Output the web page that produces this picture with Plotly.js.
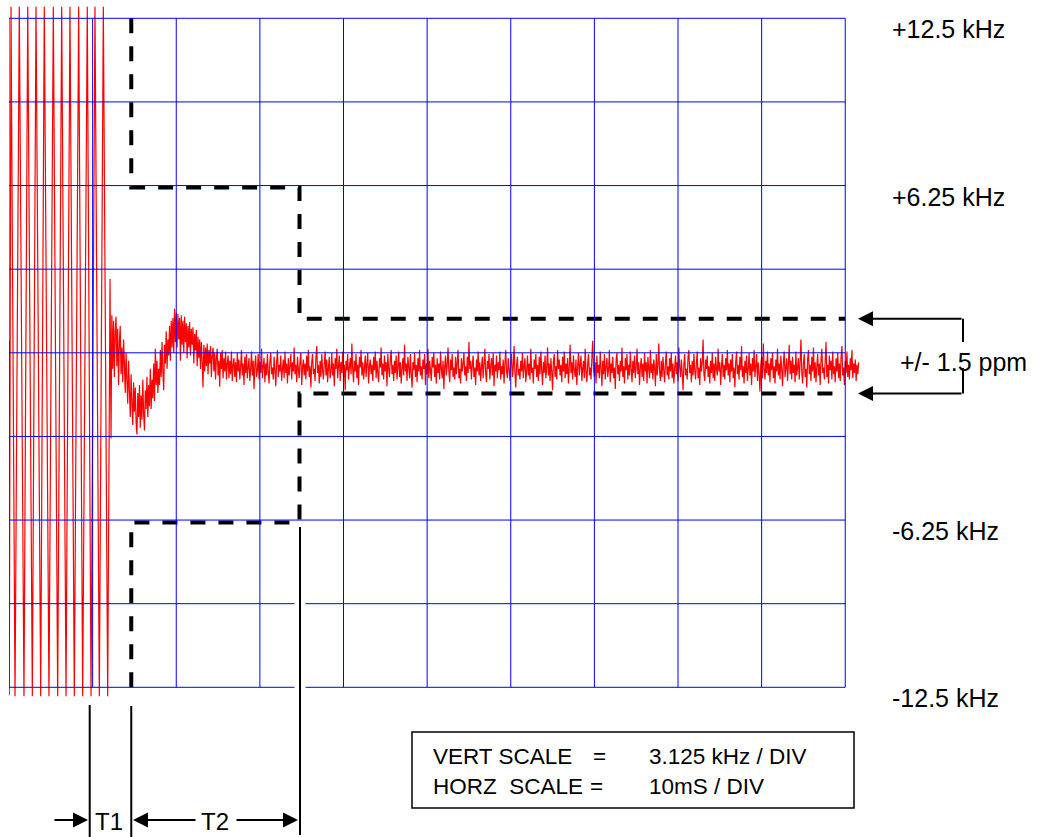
<!DOCTYPE html>
<html>
<head>
<meta charset="utf-8">
<script src="https://cdn.plot.ly/plotly-3.0.1.min.js"></script>
<style>
  html, body { margin: 0; padding: 0; background: #ffffff; }
  #chart { width: 1038px; height: 837px; }
</style>
</head>
<body>
<div id="chart"></div>
<script>
// ---------------- DATA ----------------
// Grid: 10 ms / div horizontally, 3.125 kHz / div vertically
const gridTimesMs = [0, 10, 20, 30, 40, 50, 60, 70, 80, 90, 100];
const gridLevelsKHz = [-12.5, -9.375, -6.25, -3.125, 0, 3.125, 6.25, 9.375, 12.5];

// Right-hand scale labels
const scaleLabels = ['+12.5 kHz', '+6.25 kHz', '-6.25 kHz', '-12.5 kHz'];
const scaleLabelLevelsKHz = [12.5, 6.25, -6.25, -12.5];

// Frequency sweep while unlocked (zigzag vertices)
const sweepTimeMs = [0.00, 0.03, 0.24, 0.72, 1.23, 1.79, 2.24, 2.79, 3.23, 3.79, 4.22, 4.78,
                     5.30, 5.82, 6.30, 6.82, 7.29, 7.81, 8.33, 8.81, 9.36, 9.81, 10.28, 10.80,
                     11.28, 11.80, 12.08];
const sweepKHz = [0.45, -12.80, 12.93, -12.83, 12.93, -12.83, 12.93, -12.83, 12.93, -12.83, 12.93, -12.83,
                  12.93, -12.83, 12.93, -12.83, 12.93, -12.83, 12.93, -12.83, 12.93, -12.83, 12.93, -12.83,
                  12.93, -12.83, 2.76];

// Settling transient, sampled every 0.1 ms from 12.2 ms
const SAMPLE_MS = 0.1;
const TRANSIENT_START_MS = 12.2;
const transientKHz = [
  -3.20, 1.40, -0.60, 1.20, -0.90, 0.80, 1.35, -0.50, 0.90, -1.20,
  0.40, 1.00, -0.80, 0.20, -1.10, 0.50, -0.40, -1.50, 0.00, -1.00,
  -1.90, -0.30, -1.40, -2.40, -0.80, -1.90, -2.70, -1.10, -2.20, -1.30,
  -2.60, -3.05, -1.50, -2.40, -1.20, -2.80, -1.60, -2.50, -1.00, -2.30,
  -2.90, -1.40, -2.10, -0.90, -2.40, -1.20, -2.00, -0.60, -2.10, -1.00,
  -1.70, -0.40, -1.80, 0.15, -1.20, -0.30, -1.50, -0.60, -1.20, 0.10,
  -0.90, 0.40, -0.70, -1.40, 0.30, -0.40, 0.80, -0.60, 0.50, -0.10,
  1.00, -0.30, 1.20, 0.20, 1.30, 0.00, 1.65, 0.40, 1.50, 0.20,
  1.45, 0.50, 1.30, -0.30, 1.40, 0.30, 1.20, 0.00, 1.35, 0.40,
  1.10, -0.20, 1.00, 0.20, 1.15, -0.10, 0.90, 0.30, 0.95, -0.40,
  0.70, 0.10, 0.85, -0.50, 0.60, -0.20, 0.50, -0.60, 0.40, -0.30,
  -1.30, 0.30, -0.70, 0.20, -0.50, 0.35, -0.80, 0.10, -0.40, 0.25,
  -0.90, -0.10, 0.20, -0.70, 0.00, -1.00, -0.20, 0.15, -0.85, -0.30,
  -1.27, 0.00, -0.60, 0.10, -0.95, -0.20, -0.70, 0.05, -1.00, -0.40
];

// Locked steady state (noise), sampled every 0.1 ms from 26.2 ms
const STEADY_START_MS = 26.2;
const steadyKHz = [
  -0.10,-0.95,-0.30,-0.80,0.05,-1.05,-0.45,-0.20,-0.90,-0.35,-1.10,0.00,-0.70,-0.25,-1.00,-0.50,0.10,-0.85,-0.40,-1.20,-0.15,-0.75,-0.05,-0.95,-0.55,
  -0.20,-1.05,-0.60,0.05,-0.85,-0.30,-1.35,-0.45,-0.10,-0.90,-0.65,-0.05,-1.00,-0.35,-0.75,0.15,-0.95,-0.50,-0.20,-1.10,-0.40,-0.85,-0.05,-0.70,-1.15,
  -0.30,0.00,-0.80,-0.55,-1.00,-0.15,-0.65,-1.25,-0.35,0.10,-0.90,-0.45,-0.70,-0.10,-1.05,-0.60,-0.25,-0.95,0.05,-0.75,-0.40,-1.15,-0.20,-0.85,-0.50,
  -0.05,-1.00,-0.35,-0.70,0.20,-0.80,-0.45,-1.10,-0.15,-0.60,-0.95,-0.30,0.00,-1.20,-0.55,-0.25,-0.85,-0.40,-1.00,-0.10,-0.70,0.10,-0.90,-0.50,-1.30,
  -0.35,-0.05,-0.80,-0.60,-1.05,-0.20,0.25,-0.75,-0.45,-1.15,-0.30,-0.90,-0.05,-0.65,-1.00,-0.40,0.05,-0.85,-0.25,-1.10,-0.55,-0.15,-0.95,-0.70,0.00,
  -0.85,-0.40,-1.25,-0.20,-0.60,0.15,-0.95,-0.50,-0.10,-1.05,-0.35,-0.75,0.05,-0.90,-0.45,-1.40,-0.30,-0.65,-0.05,-1.00,-0.55,-0.20,-0.80,0.35,-0.60,
  -1.10,-0.30,-0.70,-0.05,-0.95,-0.45,-1.20,-0.15,-0.55,0.10,-0.85,-0.35,-1.00,-0.60,-0.10,-0.90,-0.40,0.00,-1.15,-0.50,-0.25,-0.80,-0.45,-1.05,-0.15,
  -0.65,0.05,-0.95,-0.30,-0.75,-1.10,-0.20,-0.55,0.20,-0.85,-0.40,-1.00,-0.10,-0.70,-0.35,-1.25,-0.05,-0.60,-0.90,-0.25,0.10,-0.80,-0.45,-1.05,-0.30,
  -0.75,-0.10,-1.00,-0.50,0.05,-0.90,-0.35,-1.15,-0.60,-0.20,-0.85,0.30,-0.70,-0.40,-1.05,-0.15,-0.55,-0.95,-0.05,-0.80,-1.30,-0.35,-0.65,0.00,-0.90,
  -0.45,-1.10,-0.20,-0.70,0.10,-0.85,-0.50,-1.00,-0.25,-0.60,-0.05,-1.20,-0.40,-0.80,0.15,-0.95,-0.30,-0.65,-1.05,-0.15,-0.55,0.00,-0.90,-0.45,-1.15,
  -0.20,-0.75,-0.40,-1.00,0.05,-0.60,-0.95,-0.30,-1.35,-0.50,-0.10,-0.85,-0.45,0.20,-0.70,-1.10,-0.25,-0.65,-0.05,-0.90,-0.55,-1.00,-0.15,-0.80,-0.35,
  0.10,-0.95,-0.60,-1.15,-0.20,-0.70,-0.40,0.00,-0.85,-0.50,-1.05,-0.15,-0.75,0.40,-0.60,-0.30,-1.00,-0.45,-0.10,-0.90,-0.55,-1.20,-0.25,-0.70,0.05,
  -0.85,-0.35,-1.05,-0.55,-0.15,-0.95,-0.40,0.15,-0.75,-1.10,-0.30,-0.60,-0.05,-1.00,-0.50,-0.20,-0.85,0.00,-1.25,-0.45,-0.70,-0.10,-0.95,-0.35,-0.65,
  0.05,-1.00,-0.50,-0.80,-0.25,-1.15,-0.40,0.10,-0.70,-0.95,-0.20,-0.60,-1.05,-0.35,-0.05,-0.90,-0.55,0.25,-0.75,-1.30,-0.45,-0.15,-0.85,-0.60,-1.00,
  -0.30,-0.70,0.00,-0.95,-0.50,-0.20,-1.10,-0.65,-0.10,-0.85,-0.40,-1.00,0.15,-0.75,-0.55,-1.15,-0.25,-0.60,-0.05,-0.90,-0.45,-1.05,-0.15,-0.80,0.05,
  -0.65,-1.20,-0.35,-0.75,-0.10,-0.95,-0.55,0.20,-0.85,-0.40,-1.05,-0.20,-0.70,-1.40,-0.30,-0.05,-0.90,-0.50,-1.00,0.10,-0.60,-0.25,-0.85,-0.45,-1.10,
  -0.15,-0.70,0.05,-0.95,-0.40,-0.80,-0.20,-1.15,-0.55,0.30,-0.75,-0.35,-1.00,-0.10,-0.65,-0.90,-0.25,-1.20,-0.50,0.00,-0.85,-0.45,-0.10,-1.05,-0.60,
  -0.30,-0.95,0.15,-0.70,-1.10,-0.40,-0.05,-0.85,-0.55,-1.00,-0.20,0.45,-0.65,-0.90,-0.35,-1.15,-0.10,-0.75,-0.45,-0.95,0.05,-0.60,-1.25,-0.30,-0.80,
  -0.05,-1.00,-0.50,-0.20,-0.90,-0.60,0.10,-1.10,-0.40,-0.75,-0.15,-0.95,-0.55,-1.35,-0.25,0.00,-0.80,-0.45,-1.05,-0.30,-0.70,0.20,-0.90,-0.50,-1.15,
  -0.20,-0.65,-0.05,-1.00,-0.45,-0.85,0.05,-0.60,-1.10,-0.30,-0.75,-0.10,-0.95,-0.50,0.15,-0.80,-0.35,-1.20,-0.55,-0.20,-0.90,-0.40,-1.05,0.00,-0.70,
  -0.35,-1.15,-0.15,-0.60,-0.95,0.10,-0.75,-0.40,-1.00,-0.25,-0.55,-1.25,-0.05,-0.85,-0.45,0.35,-0.70,-1.05,-0.30,-0.90,-0.15,-0.65,-1.10,-0.35,0.05,
  -0.85,-0.50,-1.00,-0.20,-0.70,0.00,-0.95,-0.40,-1.15,-0.60,-0.10,-0.80,-0.35,-1.05,0.20,-0.55,-0.90,-0.25,-0.75,-1.40,-0.45,-0.05,-0.85,-0.60,-1.00,
  -0.15,0.10,-0.75,-0.45,-1.10,-0.30,-0.85,-0.05,-0.65,-1.00,-0.40,0.05,-0.95,-0.55,-1.20,-0.20,-0.70,-0.35,0.50,-0.80,-1.05,-0.25,-0.60,-0.10,-0.90,
  -0.50,-1.15,-0.30,-0.75,0.00,-0.95,-0.40,-1.05,-0.15,-0.60,-0.85,0.15,-0.70,-0.35,-1.20,-0.50,-0.05,-0.90,-0.45,-1.00,-0.20,-0.65,0.10,-0.85,-0.40,
  -1.10,-0.25,-0.70,-0.05,-0.95,-0.55,-1.30,-0.35,0.05,-0.80,-0.45,-1.00,-0.15,-0.65,0.25,-0.90,-0.50,-1.15,-0.30,-0.75,-0.10,-1.05,-0.60,0.00,-0.85,
  -0.40,-1.20,-0.20,-0.70,0.10,-0.90,-0.50,-0.05,-1.05,-0.35,-0.80,-1.45,-0.45,-0.15,-0.95,0.35,-0.60,-1.00,-0.30,-0.75,0.05,-0.85,-0.40,-1.10,-0.20,
  -0.65,0.00,-0.95,-0.50,-1.15,-0.25,-0.70,0.15,-0.85,-0.40,-1.00,-0.10,-0.60,-1.25,-0.35,0.05,-0.90,-0.55,-0.20,-1.05,-0.45,0.30,-0.80,-0.30,-1.00,
  -0.15,-0.75,-0.45,-1.10,0.05,-0.85,-0.55,-0.20,-1.00,-0.35,0.50,-0.70,-1.15,-0.40,-0.05,-0.90,-0.60,-1.30,-0.25,0.10,-0.80,-0.45,-1.05,-0.15,-0.70,
  0.20,-0.95,-0.35,-1.10,-0.50,-0.05,-0.85,-0.40,-1.20,-0.25,0.15,-0.75,-0.55,-1.00,-0.30,0.40,-0.90,-0.45,-1.15,-0.10,-0.65,-0.30,-1.00,0.05,-0.80,
  -0.50,-1.10,-0.20,-0.70,0.00,-0.95,-0.40,-1.05,-0.15,0.25,-0.85,-0.55,-1.20,-0.30,-0.75,0.05,-0.90,-0.45,-1.00,-0.20,-0.65,0.10,-0.95,-0.40,-0.75,
  -0.25,-1.05,-0.45,-0.80,-0.35
];

// Lock mask (dashed limits)
const maskTimeMs = [14.62, 14.62, 34.74, 34.74, 100];
const maskUpperKHz = [12.5, 6.18, 6.18, 1.27, 1.27];
const maskLowerKHz = [-12.5, -6.34, -6.34, -1.52, -1.52];

// Texts
const toleranceLabel = '+/- 1.5 ppm';
const intervalLabels = ['T1', 'T2'];
const scaleBoxRows = [
  ['VERT SCALE', '=', '3.125 kHz / DIV'],
  ['HORZ\u00a0\u00a0SCALE', '=', '10mS / DIV']
];

// ---------------- GEOMETRY ----------------
const PLOT_L = 9, PLOT_R = 860, PLOT_T = 0, PLOT_B = 700;
const W = 1038, H = 837;
const PX_PER_MS = 8.3625;
const PX_PER_KHZ = 26.76;
const CENTER_PY = 352.8;
const xRange = [0, (PLOT_R - PLOT_L) / PX_PER_MS];
const yRange = [-(PLOT_B - CENTER_PY) / PX_PER_KHZ, (CENTER_PY - PLOT_T) / PX_PER_KHZ];

const px2paperX = px => (px - PLOT_L) / (PLOT_R - PLOT_L);
const py2paperY = py => (PLOT_B - py) / (PLOT_B - PLOT_T);
const kHz2py = k => CENTER_PY - k * PX_PER_KHZ;
const ms2px = t => PLOT_L + t * PX_PER_MS;

const FONT = 'Liberation Sans, Arial, Helvetica, sans-serif';

// ---------------- TRACES ----------------
const transientTimes = transientKHz.map((_, i) => +(TRANSIENT_START_MS + i * SAMPLE_MS).toFixed(2));
const steadyTimes = steadyKHz.map((_, i) => +(STEADY_START_MS + i * SAMPLE_MS).toFixed(2));

const signalTrace = {
  type: 'scatter', mode: 'lines',
  x: sweepTimeMs.concat(transientTimes, steadyTimes),
  y: sweepKHz.concat(transientKHz, steadyKHz),
  line: { color: '#FF0000', width: 1.2, simplify: false },
  hoverinfo: 'skip'
};
const maskUpper = {
  type: 'scatter', mode: 'lines', x: maskTimeMs, y: maskUpperKHz,
  line: { color: '#000000', width: 4, dash: '15px,13px', simplify: false }, hoverinfo: 'skip'
};
const maskLower = {
  type: 'scatter', mode: 'lines', x: maskTimeMs, y: maskLowerKHz,
  line: { color: '#000000', width: 4, dash: '15px,13px', simplify: false }, hoverinfo: 'skip'
};

// ---------------- SHAPES ----------------
const shapes = [];
gridTimesMs.forEach(t => shapes.push({
  type: 'line', xref: 'x', yref: 'y', x0: t, x1: t,
  y0: gridLevelsKHz[0], y1: gridLevelsKHz[gridLevelsKHz.length - 1],
  line: { color: '#0000FF', width: 1 }, layer: 'above'
}));
gridLevelsKHz.forEach(k => shapes.push({
  type: 'line', xref: 'x', yref: 'y', y0: k, y1: k,
  x0: gridTimesMs[0], x1: gridTimesMs[gridTimesMs.length - 1],
  line: { color: '#0000FF', width: 1 }, layer: 'above'
}));

function paperLine(x0, y0, x1, y1, color, width) {
  shapes.push({
    type: 'line', xref: 'paper', yref: 'paper',
    x0: px2paperX(x0), y0: py2paperY(y0), x1: px2paperX(x1), y1: py2paperY(y1),
    line: { color: color, width: width }, layer: 'above'
  });
}
// T2 marker: solid line with white clearance through the grid
const t2px = ms2px(maskTimeMs[2]) + 0.5;
paperLine(t2px, 527, t2px, 700, '#FFFFFF', 11);
paperLine(t2px, 527, t2px, 835, '#000000', 2);
// T1 markers
paperLine(89.7, 705, 89.7, 837, '#000000', 2);
paperLine(ms2px(maskTimeMs[0]), 706, ms2px(maskTimeMs[0]), 837, '#000000', 2);
// tolerance bracket verticals
const bracketX = 963;
const upPy = kHz2py(maskUpperKHz[4]), loPy = kHz2py(maskLowerKHz[4]);
paperLine(bracketX, upPy, bracketX, 342, '#000000', 2);
paperLine(bracketX, 368, bracketX, loPy, '#000000', 2);
// scale box
shapes.push({
  type: 'rect', xref: 'paper', yref: 'paper',
  x0: px2paperX(412), x1: px2paperX(854), y0: py2paperY(732), y1: py2paperY(808),
  line: { color: '#000000', width: 1.5 }, fillcolor: 'rgba(0,0,0,0)', layer: 'above'
});

// ---------------- ANNOTATIONS ----------------
const annotations = [];
function label(text, px, py, size, anchor) {
  annotations.push({
    text: text, xref: 'paper', yref: 'paper',
    x: px2paperX(px), y: py2paperY(py),
    xanchor: anchor || 'left', yanchor: 'middle',
    showarrow: false, borderpad: 0,
    font: { family: FONT, size: size, color: '#000000' }
  });
}
function arrow(tipPx, tipPy, tailDx) {
  annotations.push({
    text: '', xref: 'paper', yref: 'paper',
    x: px2paperX(tipPx), y: py2paperY(tipPy),
    ax: tailDx, ay: 0, axref: 'pixel', ayref: 'pixel',
    showarrow: true, arrowhead: 2, arrowsize: 1.5, arrowwidth: 2,
    arrowcolor: '#000000', standoff: 0
  });
}

scaleLabels.forEach((s, i) => label(s, 891, kHz2py(scaleLabelLevelsKHz[i]) + 11, 25));

// tolerance bracket
arrow(858, upPy, bracketX - 858);
arrow(858, loPy, bracketX - 858);
label(toleranceLabel, 899, 362.5, 25);

// interval arrows
arrow(88, 820, -35);
arrow(133, 820, 64);
arrow(298, 820, -63);
label(intervalLabels[0], 108.5, 821, 24, 'center');
label(intervalLabels[1], 215, 821, 24, 'center');

// scale box rows
const rowPy = [756.5, 786.5];
const eqPx = [599.5, 596.5];
scaleBoxRows.forEach((row, i) => {
  label(row[0], 432, rowPy[i], 22.5);
  label(row[1], eqPx[i], rowPy[i], 22.5, 'center');
  label(row[2], 648, rowPy[i], 22.5);
});

const layout = {
  width: W, height: H,
  margin: { l: PLOT_L, r: W - PLOT_R, t: PLOT_T, b: H - PLOT_B, pad: 0 },
  paper_bgcolor: '#FFFFFF', plot_bgcolor: '#FFFFFF',
  showlegend: false,
  xaxis: { range: xRange, visible: false, fixedrange: true },
  yaxis: { range: yRange, visible: false, fixedrange: true },
  shapes: shapes,
  annotations: annotations,
  font: { family: FONT }
};

Plotly.newPlot('chart', [signalTrace, maskUpper, maskLower], layout, { displayModeBar: false, staticPlot: true });
</script>
</body>
</html>
